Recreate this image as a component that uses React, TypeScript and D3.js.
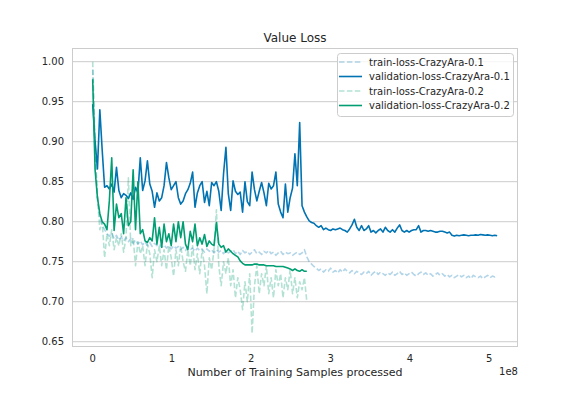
import React, { useEffect, useRef } from 'react';
import * as d3 from 'd3';

// one evaluation every 3M samples (x axis is in units of 1e8)
const STEP = 0.03;

const trainLoss01 = [
  0.99, 0.88, 0.83, 0.805, 0.795, 0.79, 0.785, 0.782, 0.786, 0.779,
  0.783, 0.777, 0.781, 0.776, 0.78, 0.775, 0.779, 0.773, 0.777, 0.772,
  0.776, 0.771, 0.775, 0.77, 0.774, 0.769, 0.773, 0.77, 0.772, 0.768,
  0.771, 0.767, 0.77, 0.766, 0.77, 0.767, 0.769, 0.765, 0.768, 0.764,
  0.768, 0.765, 0.767, 0.763, 0.767, 0.764, 0.766, 0.762, 0.766, 0.763,
  0.765, 0.761, 0.765, 0.762, 0.764, 0.76, 0.764, 0.761, 0.763, 0.765,
  0.76, 0.763, 0.759, 0.764, 0.761, 0.763, 0.759, 0.762, 0.765, 0.76,
  0.762, 0.759, 0.763, 0.761, 0.764, 0.76, 0.762, 0.758, 0.761, 0.763,
  0.759, 0.762, 0.76, 0.761, 0.758, 0.76, 0.762, 0.759, 0.761, 0.765,
  0.756, 0.75, 0.747, 0.744, 0.742, 0.739, 0.741, 0.737, 0.74, 0.738,
  0.742, 0.737, 0.739, 0.736, 0.74, 0.737, 0.741, 0.738, 0.736, 0.739,
  0.735, 0.738, 0.736, 0.734, 0.737, 0.735, 0.738, 0.733, 0.736, 0.738,
  0.734, 0.737, 0.735, 0.733, 0.736, 0.734, 0.737, 0.733, 0.735, 0.738,
  0.734, 0.736, 0.733, 0.735, 0.737, 0.734, 0.732, 0.735, 0.737, 0.734,
  0.736, 0.733, 0.735, 0.732, 0.734, 0.736, 0.733, 0.735, 0.732, 0.734,
  0.731, 0.733, 0.73, 0.732, 0.734, 0.731, 0.733, 0.73, 0.732, 0.729,
  0.733, 0.731, 0.73, 0.732, 0.729, 0.731, 0.733, 0.73, 0.732, 0.731, 0.733,
];

const valLoss01 = [
  0.947, 0.9, 0.866, 0.94, 0.889, 0.843, 0.845, 0.841, 0.847, 0.837,
  0.868, 0.839, 0.83, 0.835, 0.833, 0.829, 0.836, 0.828, 0.843, 0.836,
  0.88, 0.839, 0.851, 0.876, 0.847, 0.838, 0.818, 0.836, 0.826, 0.83,
  0.845, 0.874, 0.855, 0.84, 0.845, 0.85, 0.83, 0.822, 0.826, 0.835,
  0.84, 0.848, 0.862, 0.818, 0.836, 0.845, 0.85, 0.824, 0.838, 0.82,
  0.849, 0.845, 0.85, 0.838, 0.814, 0.86, 0.893, 0.835, 0.814, 0.851,
  0.838, 0.834, 0.837, 0.812, 0.85, 0.825, 0.82, 0.862, 0.84, 0.826,
  0.838, 0.849, 0.836, 0.82, 0.848, 0.841, 0.845, 0.862, 0.822, 0.812,
  0.805, 0.847, 0.812, 0.83, 0.842, 0.885, 0.845, 0.924, 0.82, 0.812,
  0.806, 0.801, 0.799, 0.798, 0.795, 0.793, 0.795, 0.79, 0.792, 0.79,
  0.789, 0.791, 0.79, 0.791, 0.792, 0.79, 0.789, 0.787, 0.791, 0.796,
  0.803, 0.793, 0.789, 0.795, 0.789, 0.791, 0.795, 0.787, 0.789, 0.786,
  0.789, 0.791, 0.787, 0.793, 0.789, 0.787, 0.79, 0.787, 0.792, 0.796,
  0.789, 0.787, 0.789, 0.787, 0.789, 0.79, 0.79, 0.795, 0.787, 0.789,
  0.789, 0.788, 0.789, 0.788, 0.787, 0.787, 0.788, 0.788, 0.787, 0.786,
  0.787, 0.783, 0.782, 0.783, 0.7825, 0.783, 0.7835, 0.783, 0.7825, 0.783,
  0.783, 0.7835, 0.783, 0.784, 0.7835, 0.783, 0.7835, 0.783, 0.7825, 0.783, 0.7825,
];

const trainLoss02 = [
  1.0, 0.9, 0.83, 0.79, 0.8, 0.755, 0.785, 0.77, 0.79, 0.765,
  0.78, 0.77, 0.785, 0.762, 0.78, 0.855, 0.77, 0.78, 0.745, 0.775,
  0.76, 0.77, 0.745, 0.772, 0.76, 0.73, 0.765, 0.75, 0.77, 0.745,
  0.765, 0.74, 0.77, 0.755, 0.732, 0.765, 0.745, 0.77, 0.75, 0.738,
  0.765, 0.745, 0.77, 0.74, 0.76, 0.735, 0.765, 0.745, 0.71, 0.755,
  0.74, 0.765, 0.815, 0.745, 0.72, 0.75, 0.735, 0.755, 0.72, 0.74,
  0.705, 0.73, 0.715, 0.69, 0.725, 0.7, 0.735, 0.6605, 0.72, 0.745,
  0.71, 0.735, 0.72, 0.745, 0.71, 0.73, 0.705, 0.74, 0.72, 0.735,
  0.705, 0.73, 0.715, 0.74, 0.71, 0.73, 0.705, 0.725, 0.715, 0.73, 0.7,
];

const valLoss02 = [
  0.978, 0.865, 0.83, 0.81, 0.8, 0.797, 0.79, 0.826, 0.88, 0.789,
  0.822, 0.805, 0.81, 0.785, 0.83, 0.795, 0.8, 0.865, 0.79, 0.85,
  0.785, 0.79, 0.776, 0.774, 0.78, 0.776, 0.805, 0.772, 0.793, 0.768,
  0.797, 0.775, 0.785, 0.77, 0.797, 0.775, 0.8, 0.78, 0.8, 0.772,
  0.765, 0.788, 0.775, 0.797, 0.77, 0.78, 0.772, 0.784, 0.769, 0.776,
  0.772, 0.77, 0.799, 0.772, 0.768, 0.77, 0.762, 0.766, 0.763, 0.76,
  0.758, 0.756, 0.751, 0.748, 0.746, 0.746, 0.746, 0.746, 0.747, 0.747,
  0.746, 0.746, 0.746, 0.745, 0.745, 0.745, 0.745, 0.744, 0.744, 0.744,
  0.744, 0.743, 0.742, 0.741, 0.739, 0.741, 0.739, 0.738, 0.74, 0.738, 0.738,
];

const yTicks = [0.65, 0.7, 0.75, 0.8, 0.85, 0.9, 0.95, 1.0];
const xTicks = [0, 1, 2, 3, 4, 5];

const BLUE = '#0173b2';
const GREEN = '#029e73';

const series = [
  { name: 'train-loss-CrazyAra-0.1', values: trainLoss01, color: BLUE, dashed: true },
  { name: 'validation-loss-CrazyAra-0.1', values: valLoss01, color: BLUE, dashed: false },
  { name: 'train-loss-CrazyAra-0.2', values: trainLoss02, color: GREEN, dashed: true },
  { name: 'validation-loss-CrazyAra-0.2', values: valLoss02, color: GREEN, dashed: false },
];

const W = 576, H = 396;
const margin = { top: 48, right: 58, bottom: 49, left: 72 };
const FONT = 'DejaVu Sans, sans-serif';
const TEXT = '#262626';
const GRID = '#cccccc';

const App = () => {
  const svgRef = useRef<SVGSVGElement | null>(null);

  useEffect(() => {
    const svg = d3.select(svgRef.current);
    svg.selectAll('*').remove();

    const x0 = margin.left, x1 = W - margin.right;
    const y0 = H - margin.bottom, y1 = margin.top;

    const x = d3.scaleLinear().domain([-0.261, 5.363]).range([x0, x1]);
    const y = d3.scaleLinear().domain([0.6434, 1.0171]).range([y0, y1]);

    svg.append('rect').attr('width', W).attr('height', H).attr('fill', '#fff');

    // horizontal grid
    svg.append('g')
      .selectAll('line')
      .data(yTicks)
      .enter()
      .append('line')
      .attr('x1', x0).attr('x2', x1)
      .attr('y1', d => y(d)).attr('y2', d => y(d))
      .attr('stroke', GRID).attr('stroke-width', 1);

    const clip = svg.append('clipPath').attr('id', 'plot-clip');
    clip.append('rect').attr('x', x0).attr('y', y1).attr('width', x1 - x0).attr('height', y0 - y1);

    const drawLine = d3.line<number>()
      .x((_, i) => x(i * STEP))
      .y(d => y(d));

    const g = svg.append('g').attr('clip-path', 'url(#plot-clip)');
    series.forEach(s => {
      g.append('path')
        .datum(s.values)
        .attr('d', drawLine)
        .attr('fill', 'none')
        .attr('stroke', s.color)
        .attr('stroke-opacity', s.dashed ? 0.3 : 1)
        .attr('stroke-width', 1.6)
        .attr('stroke-linejoin', 'round')
        .attr('stroke-dasharray', s.dashed ? '5.5,2.4' : null);
    });

    // spines
    svg.append('rect')
      .attr('x', x0 + 0.5).attr('y', y1 + 0.5)
      .attr('width', x1 - x0 - 1).attr('height', y0 - y1 - 1)
      .attr('fill', 'none').attr('stroke', GRID).attr('stroke-width', 1);

    // y tick labels
    svg.append('g')
      .selectAll('text')
      .data(yTicks)
      .enter()
      .append('text')
      .attr('x', x0 - 8)
      .attr('y', d => y(d) + 3.5)
      .attr('text-anchor', 'end')
      .attr('font-family', FONT).attr('font-size', 10).attr('fill', TEXT)
      .text(d => d3.format('.2f')(d));

    // x tick labels
    svg.append('g')
      .selectAll('text')
      .data(xTicks)
      .enter()
      .append('text')
      .attr('x', d => x(d))
      .attr('y', y0 + 15)
      .attr('text-anchor', 'middle')
      .attr('font-family', FONT).attr('font-size', 10).attr('fill', TEXT)
      .text(d => String(d));

    svg.append('text')
      .attr('x', x1).attr('y', y0 + 28)
      .attr('text-anchor', 'end')
      .attr('font-family', FONT).attr('font-size', 10).attr('fill', TEXT)
      .text('1e8');

    svg.append('text')
      .attr('x', (x0 + x1) / 2).attr('y', y0 + 29)
      .attr('text-anchor', 'middle')
      .attr('font-family', FONT).attr('font-size', 11).attr('fill', TEXT)
      .text('Number of Training Samples processed');

    svg.append('text')
      .attr('x', (x0 + x1) / 2).attr('y', y1 - 6)
      .attr('text-anchor', 'middle')
      .attr('font-family', FONT).attr('font-size', 12).attr('fill', TEXT)
      .text('Value Loss');

    // legend
    const lg = svg.append('g').attr('transform', 'translate(337,53)');
    lg.append('rect')
      .attr('x', 0.5).attr('y', 0.5)
      .attr('width', 176).attr('height', 63)
      .attr('rx', 3)
      .attr('fill', '#fff').attr('fill-opacity', 0.8)
      .attr('stroke', GRID).attr('stroke-width', 1);
    series.forEach((s, i) => {
      const cy = 9 + i * 14.5;
      lg.append('line')
        .attr('x1', 2).attr('x2', 25)
        .attr('y1', cy).attr('y2', cy)
        .attr('stroke', s.color)
        .attr('stroke-opacity', s.dashed ? 0.3 : 1)
        .attr('stroke-width', 1.6)
        .attr('stroke-dasharray', s.dashed ? '5.5,2.4' : null);
      lg.append('text')
        .attr('x', 32).attr('y', cy + 3.5)
        .attr('font-family', FONT).attr('font-size', 10).attr('fill', TEXT)
        .text(s.name);
    });
  }, []);

  return (
    <svg
      ref={svgRef}
      width={W}
      height={H}
      viewBox={`0 0 ${W} ${H}`}
      style={{ position: 'absolute', left: 0, top: 0 }}
    />
  );
};

export default App;
